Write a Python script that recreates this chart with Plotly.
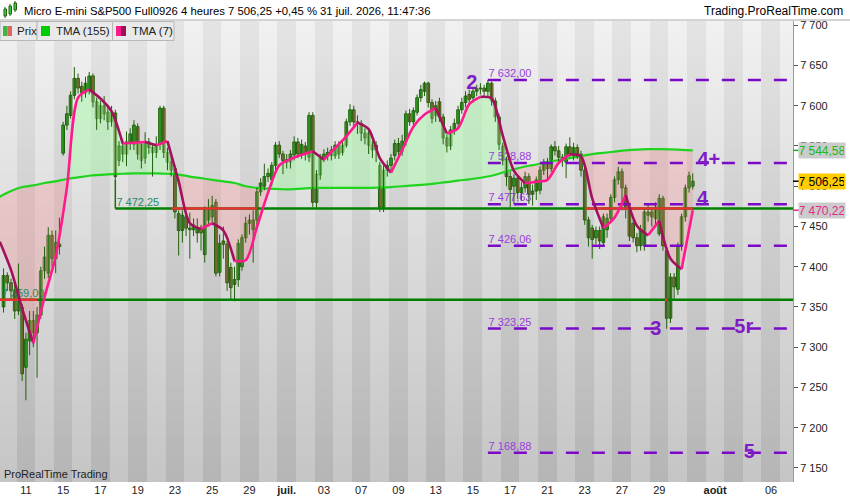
import numpy as np
import plotly.graph_objects as go

# Micro E-mini S&P500 Full0926, 4h bars (5 bars per trading day), 10 june -> 31 july 2026
opens = [
    7350, 7389, 7380, 7370,
    7345, 7350, 7275, 7308, 7333,
    7318, 7340, 7395, 7392, 7439,
    7410, 7425, 7541, 7576, 7588,
    7613, 7634, 7624, 7616, 7620,
    7637, 7605, 7584, 7600, 7592,
    7580, 7591, 7532, 7550, 7540,
    7555, 7552, 7574, 7552, 7535,
    7555, 7548, 7542, 7552, 7597,
    7542, 7530, 7522, 7466, 7445,
    7462, 7448, 7446, 7442, 7448,
    7415, 7458, 7462, 7480, 7393,
    7432, 7428, 7399, 7378, 7384,
    7400, 7436, 7454, 7458, 7458,
    7493, 7500, 7512, 7508, 7526,
    7551, 7540, 7533, 7530, 7539,
    7555, 7540, 7550, 7536, 7588,
    7480, 7514, 7535, 7538, 7545,
    7538, 7551, 7542, 7551, 7580,
    7595, 7580, 7578, 7566, 7566,
    7551, 7545, 7526, 7474, 7520,
    7526, 7538, 7553, 7543, 7556,
    7590, 7580, 7592, 7610, 7618,
    7628, 7604, 7588, 7605, 7586,
    7560, 7550, 7570, 7578, 7595,
    7604, 7614, 7610, 7618, 7621,
    7622, 7618, 7628, 7606, 7586,
    7550, 7532, 7512, 7500, 7510,
    7492, 7498, 7512, 7490, 7494,
    7495, 7520, 7530, 7522, 7549,
    7544, 7536, 7530, 7549, 7538,
    7548, 7540, 7520, 7458, 7448,
    7436, 7445, 7430, 7446, 7460,
    7486, 7508, 7518, 7498, 7472,
    7454, 7436, 7426, 7426, 7464,
    7468, 7460, 7441, 7485, 7420,
    7336, 7387, 7372, 7426, 7462,
    7498, 7500,
]
highs = [
    7398, 7393, 7385, 7378,
    7404, 7354, 7318, 7345, 7345,
    7350, 7400, 7425, 7449, 7445,
    7445, 7461, 7580, 7600, 7618,
    7648, 7640, 7630, 7636, 7642,
    7640, 7610, 7606, 7612, 7598,
    7600, 7595, 7556, 7558, 7568,
    7572, 7582, 7578, 7556, 7567,
    7560, 7552, 7562, 7600, 7600,
    7548, 7540, 7526, 7470, 7470,
    7466, 7467, 7460, 7460, 7452,
    7475, 7484, 7488, 7484, 7440,
    7450, 7432, 7405, 7400, 7434,
    7440, 7462, 7465, 7470, 7498,
    7510, 7528, 7522, 7530, 7555,
    7556, 7544, 7540, 7545, 7562,
    7560, 7558, 7555, 7592, 7592,
    7520, 7540, 7546, 7548, 7550,
    7556, 7556, 7555, 7584, 7602,
    7600, 7588, 7582, 7572, 7570,
    7556, 7556, 7530, 7526, 7532,
    7540, 7558, 7560, 7564, 7594,
    7596, 7598, 7614, 7626, 7630,
    7630, 7608, 7606, 7610, 7590,
    7564, 7575, 7584, 7600, 7610,
    7618, 7620, 7622, 7626, 7628,
    7626, 7632, 7630, 7610, 7590,
    7554, 7536, 7518, 7515, 7514,
    7505, 7518, 7516, 7502, 7512,
    7525, 7534, 7535, 7552, 7556,
    7550, 7540, 7553, 7561, 7554,
    7552, 7544, 7524, 7462, 7452,
    7450, 7450, 7466, 7466, 7490,
    7512, 7524, 7522, 7502, 7476,
    7458, 7442, 7452, 7472, 7478,
    7474, 7480, 7490, 7488, 7424,
    7392, 7392, 7430, 7466, 7502,
    7518, 7516,
]
lows = [
    7343, 7370, 7360, 7335,
    7340, 7258, 7234, 7290, 7300,
    7262, 7335, 7385, 7386, 7400,
    7392, 7415, 7538, 7570, 7584,
    7608, 7615, 7605, 7610, 7614,
    7598, 7570, 7578, 7582, 7570,
    7574, 7508, 7525, 7530, 7525,
    7545, 7545, 7533, 7522, 7528,
    7540, 7512, 7535, 7545, 7535,
    7520, 7512, 7460, 7414, 7430,
    7438, 7410, 7438, 7430, 7420,
    7405, 7450, 7455, 7388, 7388,
    7410, 7370, 7358, 7357, 7375,
    7395, 7430, 7440, 7405, 7452,
    7488, 7495, 7505, 7500, 7520,
    7535, 7515, 7522, 7522, 7532,
    7535, 7534, 7532, 7530, 7474,
    7472, 7508, 7530, 7532, 7532,
    7534, 7534, 7538, 7548, 7575,
    7574, 7565, 7556, 7552, 7540,
    7535, 7530, 7468, 7468, 7512,
    7520, 7532, 7538, 7538, 7550,
    7575, 7576, 7588, 7605, 7612,
    7598, 7578, 7580, 7580, 7552,
    7542, 7545, 7564, 7572, 7590,
    7598, 7602, 7604, 7612, 7614,
    7612, 7612, 7600, 7580, 7545,
    7526, 7500, 7474, 7478, 7484,
    7482, 7492, 7478, 7476, 7483,
    7490, 7514, 7508, 7518, 7538,
    7530, 7524, 7510, 7536, 7532,
    7534, 7512, 7452, 7425, 7410,
    7428, 7422, 7426, 7436, 7455,
    7480, 7502, 7470, 7460, 7432,
    7430, 7418, 7420, 7420, 7456,
    7450, 7452, 7438, 7420, 7323,
    7330, 7360, 7365, 7420, 7456,
    7492, 7496,
]
closes = [
    7389, 7380, 7370, 7345,
    7372, 7267, 7310, 7333, 7318,
    7340, 7395, 7412, 7439, 7410,
    7430, 7428, 7576, 7590, 7613,
    7634, 7622, 7616, 7628, 7637,
    7605, 7584, 7600, 7590, 7580,
    7592, 7512, 7550, 7540, 7555,
    7565, 7576, 7540, 7532, 7555,
    7548, 7542, 7550, 7597, 7542,
    7530, 7520, 7468, 7445, 7464,
    7448, 7446, 7452, 7448, 7442,
    7470, 7470, 7476, 7392, 7429,
    7428, 7380, 7374, 7384, 7429,
    7436, 7454, 7458, 7446, 7493,
    7504, 7512, 7516, 7526, 7551,
    7540, 7532, 7530, 7540, 7555,
    7540, 7552, 7540, 7588, 7480,
    7515, 7535, 7540, 7542, 7538,
    7551, 7540, 7551, 7580, 7595,
    7580, 7578, 7566, 7560, 7551,
    7545, 7551, 7474, 7520, 7526,
    7535, 7553, 7543, 7556, 7590,
    7580, 7594, 7610, 7620, 7628,
    7604, 7584, 7600, 7586, 7560,
    7550, 7570, 7578, 7595, 7604,
    7612, 7608, 7618, 7621, 7622,
    7618, 7628, 7606, 7586, 7552,
    7532, 7512, 7496, 7510, 7492,
    7498, 7512, 7490, 7494, 7508,
    7520, 7530, 7522, 7549, 7544,
    7536, 7532, 7549, 7540, 7548,
    7540, 7520, 7458, 7436, 7434,
    7445, 7432, 7462, 7460, 7486,
    7508, 7518, 7498, 7472, 7438,
    7436, 7426, 7446, 7468, 7468,
    7462, 7474, 7485, 7426, 7336,
    7387, 7375, 7426, 7462, 7498,
    7513, 7506.25,
]

# TMA values read every 3 bars, starting one bar before the first candle
tma155 = [
    7487, 7494, 7499, 7501, 7504, 7506, 7509, 7511, 7513, 7514,
    7515, 7515.5, 7516, 7516, 7516, 7515.5, 7514.5, 7512, 7510, 7508,
    7506, 7504, 7500, 7498, 7497, 7496.5, 7496, 7497, 7498, 7498,
    7498, 7498, 7498, 7498, 7498.5, 7499, 7500, 7501, 7502, 7503.5,
    7505, 7507, 7508.5, 7510.5, 7513, 7517, 7521, 7524.5, 7527, 7530,
    7532.5, 7535, 7537.5, 7540, 7541.5, 7543, 7544.5, 7545.5, 7546, 7546,
    7545.8, 7545.2, 7544.58,
]
tma7 = [
    7431, 7396, 7348, 7305, 7362, 7413, 7498, 7610, 7620, 7609,
    7593, 7553, 7554, 7555, 7551, 7556, 7506, 7454, 7447, 7454,
    7445, 7407, 7408, 7449, 7492, 7526, 7533.6, 7539, 7543.5, 7533,
    7547.5, 7562, 7579, 7571, 7535, 7517, 7545, 7574, 7589, 7597,
    7565.6, 7572, 7602, 7611, 7609, 7563, 7519, 7503.5, 7505.5, 7508,
    7529, 7539.5, 7537, 7485, 7448, 7461, 7489, 7451, 7439, 7457,
    7410, 7397, 7470.22,
]

# support lines (green, red where broken) and wave targets (purple dashes)
support_levels = [7472.25, 7359.00]
support_start = [30, -1]
support_red_from = [[45, 156], [-1, 177.5]]
support_red_to = [[68, 185], [9, 178.3]]

target_levels = [7632.00, 7528.88, 7477.63, 7426.06, 7323.25, 7168.88]
target_start = 130

wave_labels = ["2", "4+", "4", "3", "5r", "5"]

# trading day index (0 = 11 june) of each date label
tick_days = [0, 2, 4, 6, 8, 10, 12, 14, 16, 18, 20, 22, 24, 26, 28, 30, 32, 34, 37, 40]
tick_labels = ["11", "15", "17", "19", "23", "25", "29", "<b>juil.</b>", "03", "07", "09",
               "13", "15", "17", "21", "23", "27", "29", "<b>août</b>", "06"]

BARS_PER_DAY = 5
DAY0_BAR = 6
FONT = "Liberation Sans, Arial, sans-serif"
PURPLE = "#7a0ac8"
WICK = "#22600c"


def fr(v, dec=2):
    return f"{v:,.{dec}f}".replace(",", " ").replace(".", ",")


W, H = 850, 500
PL, PR, PT, PB = 0, 793, 21, 482
Y_MIN, Y_MAX = 7132.5, 7705.3
X_MIN, X_MAX = -0.95, 211.9


def pxx(px):
    return (px - PL) / (PR - PL)


def pxy(py):
    return (PB - py) / (PB - PT)


n = len(closes)
bar_x = np.arange(n)
o = np.array(opens, dtype=float)
c = np.array(closes, dtype=float)
kx = np.arange(-1, n, 3)
fast = np.array(tma7, dtype=float)
slow = np.array(tma155, dtype=float)
assert len(kx) == len(fast) == len(slow)

fig = go.Figure()

# striped background, one stripe per trading day, darker towards the bottom
days = np.arange(-2, 43)
ys = np.linspace(Y_MIN - 5, Y_MAX + 5, 90)
t = (Y_MAX - ys) / (Y_MAX - Y_MIN)
light = 241 - 44 * t
dark = 228 - 47 * t
z = [[dark[r] if d % 2 == 0 else light[r] for d in days] for r in range(len(ys))]
fig.add_trace(go.Heatmap(x=days * BARS_PER_DAY + DAY0_BAR, y=ys, z=z, zmin=0, zmax=255,
                         colorscale=[[0, "rgb(0,0,0)"], [1, "rgb(255,255,255)"]],
                         showscale=False, hoverinfo="skip"))

# fill between the two TMAs: green above, red below
diff = fast - slow
runs = []
cx, ca, cb = [kx[0]], [fast[0]], [slow[0]]
cs = diff[0] >= 0
for i in range(1, len(kx)):
    s = diff[i] >= 0
    if s != cs:
        r = diff[i - 1] / (diff[i - 1] - diff[i])
        xc = kx[i - 1] + r * (kx[i] - kx[i - 1])
        yc = fast[i - 1] + r * (fast[i] - fast[i - 1])
        cx.append(xc); ca.append(yc); cb.append(yc)
        runs.append((cs, cx, ca, cb))
        cx, ca, cb = [xc], [yc], [yc]
        cs = s
    cx.append(kx[i]); ca.append(fast[i]); cb.append(slow[i])
runs.append((cs, cx, ca, cb))
for up, xs, ya, yb in runs:
    fig.add_trace(go.Scatter(x=list(xs) + list(xs)[::-1], y=list(ya) + list(yb)[::-1],
                             fill="toself", mode="lines", line=dict(width=0),
                             fillcolor="rgba(170,250,170,0.5)" if up else "rgba(240,150,150,0.35)",
                             hoverinfo="skip"))

# level labels (under the candles)
fig.add_trace(go.Scatter(x=[support_start[0] + 0.3, -0.5], y=support_levels, mode="text",
                         text=[fr(v) for v in support_levels], textposition="top right",
                         textfont=dict(family=FONT, size=11, color="#2b8a62"), hoverinfo="skip"))
fig.add_trace(go.Scatter(x=[target_start + 0.2] * len(target_levels), y=target_levels, mode="text",
                         text=[fr(v) for v in target_levels], textposition="top right",
                         textfont=dict(family=FONT, size=11, color="#9a3fdc"), hoverinfo="skip"))

fig.add_trace(go.Scatter(x=kx, y=slow, mode="lines", line=dict(color="#1fd41f", width=2.2, shape="spline"),
                         hoverinfo="skip"))

# candles: wicks as one broken line, bodies as bars
wx, wy = [], []
for xi, hi, lo in zip(bar_x, highs, lows):
    wx += [xi, xi, None]
    wy += [lo, hi, None]
fig.add_trace(go.Scatter(x=wx, y=wy, mode="lines", line=dict(color=WICK, width=1), hoverinfo="skip"))
fig.add_trace(go.Bar(x=bar_x, base=np.minimum(o, c), y=np.maximum(np.abs(c - o), 1.0), width=0.72,
                     marker=dict(color=np.where(c >= o, "#3ccd3c", "#e8726a"),
                                 line=dict(color=WICK, width=1)),
                     hoverinfo="skip"))

# support lines
for lvl, start, rf, rt in zip(support_levels, support_start, support_red_from, support_red_to):
    fig.add_trace(go.Scatter(x=[start, X_MAX + 1], y=[lvl, lvl], mode="lines",
                             line=dict(color="#008000", width=2.5), hoverinfo="skip"))
    for a, b in zip(rf, rt):
        fig.add_trace(go.Scatter(x=[a, b], y=[lvl, lvl], mode="lines",
                                 line=dict(color="#e83232", width=2.5), hoverinfo="skip"))
fig.add_trace(go.Scatter(x=[support_start[0], support_start[0]], y=[lows[support_start[0]], support_levels[0]],
                         mode="lines", line=dict(color="#1d6b0a", width=1.5), hoverinfo="skip"))

for lvl in target_levels:
    fig.add_trace(go.Scatter(x=[target_start, X_MAX + 1], y=[lvl, lvl], mode="lines",
                             line=dict(color=PURPLE, width=2.5, dash="13px,13px"), hoverinfo="skip"))

# TMA(7): pink when rising, dark magenta when falling
rising = np.diff(fast) > 0
i = 0
while i < len(rising):
    j = i
    while j + 1 < len(rising) and rising[j + 1] == rising[i]:
        j += 1
    fig.add_trace(go.Scatter(x=kx[i:j + 2], y=fast[i:j + 2], mode="lines",
                             line=dict(color="#ff1a8c" if rising[i] else "#a3105c", width=2.6,
                                       shape="spline", smoothing=0.8),
                             hoverinfo="skip"))
    i = j + 1

# wave count labels
wave_x = [125.7, 189.3, 187.6, 175.1, 198.7, 200.2]
wave_y = [7627, 7531, 7483, 7321, 7324, 7168]
fig.add_trace(go.Scatter(x=wave_x, y=wave_y, mode="text", text=[f"<b>{s}</b>" for s in wave_labels],
                         textposition="middle center",
                         textfont=dict(family=FONT, size=20, color="#7f1cc6"), hoverinfo="skip"))

shapes = []
annotations = []

# title bar
shapes.append(dict(type="line", xref="paper", yref="paper", x0=pxx(0), x1=pxx(W), y0=pxy(20), y1=pxy(20),
                   line=dict(color="#a8a8a8", width=1)))
for x0, y0, y1 in [(4, 9, 16), (9, 6, 14), (14, 3, 10)]:
    shapes.append(dict(type="line", xref="paper", yref="paper", x0=pxx(x0 + 1), x1=pxx(x0 + 1),
                       y0=pxy(y0 - 2), y1=pxy(y1 + 2), line=dict(color=WICK, width=1)))
    shapes.append(dict(type="rect", xref="paper", yref="paper", x0=pxx(x0), x1=pxx(x0 + 2.5),
                       y0=pxy(y0), y1=pxy(y1), fillcolor="#3ccd3c", line=dict(color=WICK, width=1)))
annotations.append(dict(xref="paper", yref="paper", x=pxx(22), y=pxy(11), xanchor="left", yanchor="middle",
                        showarrow=False, font=dict(family=FONT, size=11.3, color="#000"),
                        text="Micro E-mini S&P500 Full0926 4 heures " + fr(closes[-1])
                             + " +0,45 % 31 juil. 2026, 11:47:36"))
annotations.append(dict(xref="paper", yref="paper", x=pxx(845), y=pxy(11), xanchor="right", yanchor="middle",
                        showarrow=False, font=dict(family=FONT, size=12, color="#000"),
                        text="Trading.ProRealTime.com"))

# legend row
for x0, x1 in [(0, 37), (37, 112.5), (112.5, 174)]:
    shapes.append(dict(type="rect", xref="paper", yref="paper", x0=pxx(x0), x1=pxx(x1), y0=pxy(40.5),
                       y1=pxy(21.5), fillcolor="#e9e9e9", line=dict(color="#b8b8b8", width=1)))
for x0, x1, col in [(3, 7.5, "#3cb93c"), (7.5, 12, "#e06464"), (41, 50, "#00cc00"),
                    (116, 121, "#ff1a8c"), (121, 126, "#a0105a")]:
    shapes.append(dict(type="rect", xref="paper", yref="paper", x0=pxx(x0), x1=pxx(x1), y0=pxy(36),
                       y1=pxy(26), fillcolor=col, line=dict(width=0)))
for x0, txt in [(15, "Prix"), (54, "TMA (155)"), (130, "TMA (7)")]:
    annotations.append(dict(xref="paper", yref="paper", x=pxx(x0), y=pxy(31), xanchor="left",
                            yanchor="middle", showarrow=False, text=txt,
                            font=dict(family=FONT, size=11.5, color="#222")))

annotations.append(dict(xref="paper", yref="paper", x=pxx(2), y=pxy(474), xanchor="left", yanchor="middle",
                        showarrow=False, text="ProRealTime Trading",
                        font=dict(family=FONT, size=11, color="#222")))

# price tags on the right axis
for val, bg, fg in [(tma155[-1], "#cbcbcb", "#19b919"), (closes[-1], "#ffcc00", "#000"),
                    (tma7[-1], "#cbcbcb", "#e8288a")]:
    shapes.append(dict(type="line", xref="paper", yref="y", x0=pxx(PR), x1=pxx(PR + 6), y0=val, y1=val,
                       line=dict(color=fg, width=1.5)))
    annotations.append(dict(xref="paper", yref="y", x=pxx(PR + 5), y=val, xanchor="left", yanchor="middle",
                            showarrow=False, text=fr(val), bgcolor=bg, borderpad=1, width=44, height=13,
                            font=dict(family=FONT, size=12, color=fg)))

y_ticks = list(range(7150, 7701, 50))
fig.update_layout(
    width=W, height=H, margin=dict(l=PL, r=W - PR, t=PT, b=H - PB),
    paper_bgcolor="white", plot_bgcolor="#dddddd", showlegend=False,
    shapes=shapes, annotations=annotations,
    xaxis=dict(range=[X_MIN, X_MAX], showgrid=False, zeroline=False,
               tickvals=[d * BARS_PER_DAY + DAY0_BAR for d in tick_days], ticktext=tick_labels,
               ticks="", tickfont=dict(family=FONT, size=11, color="#222"), fixedrange=True),
    yaxis=dict(range=[Y_MIN, Y_MAX], side="right", showgrid=False, zeroline=False,
               tickvals=y_ticks, ticktext=[fr(v, 0) for v in y_ticks], ticks="outside", ticklen=4,
               tickcolor="#555", showline=True, linecolor="#9a9a9a", linewidth=1,
               tickfont=dict(family=FONT, size=11, color="#222"), fixedrange=True),
)

# the page's default 8px body margin would shift the chart inside the 850x500 window
fig.write_html("out.html", config={"displayModeBar": False},
               post_script="document.body.style.margin='0';document.body.style.overflow='hidden';")
